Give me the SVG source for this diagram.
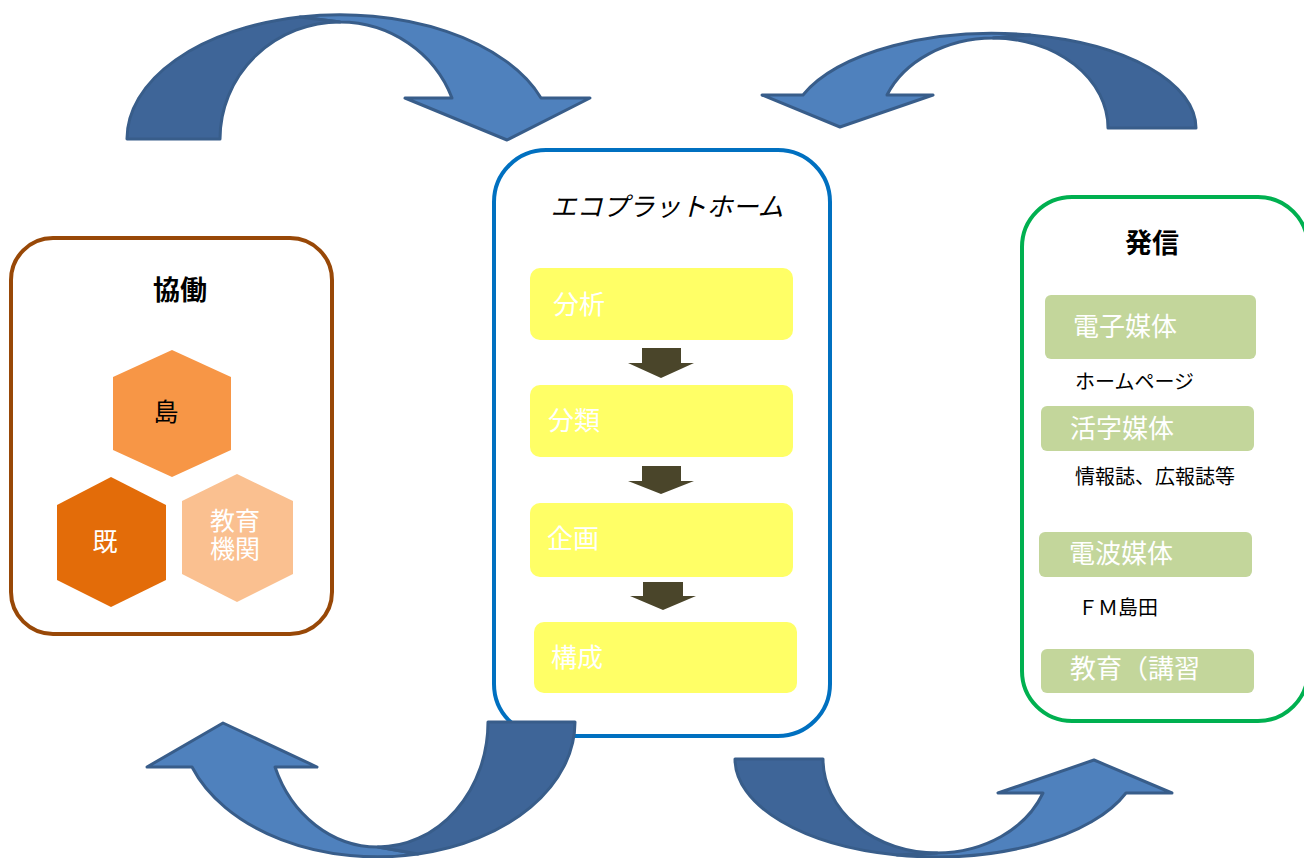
<svg xmlns="http://www.w3.org/2000/svg" width="1304" height="858" viewBox="0 0 1304 858">
<style>
text{font-family:"Noto Sans CJK JP","Noto Sans",sans-serif;}
.frame{fill:#ffffff;stroke-width:4;}
.title{font-size:27px;font-weight:bold;fill:#000;text-anchor:middle;}
.step{fill:#ffff66;}
.steptxt{font-size:26px;fill:#ffffff;}
.down{fill:#4a452a;}
.media{fill:#c3d69b;}
.mediatxt{font-size:26px;fill:#ffffff;}
.sub{font-size:20px;fill:#000;}
.hex{font-size:25px;text-anchor:middle;}
.cdark{fill:#3e6598;stroke:#385d8a;stroke-width:3;stroke-linejoin:round;}
.clight{fill:#4f81bd;stroke:#385d8a;stroke-width:3;stroke-linejoin:round;}
</style>
<rect width="1304" height="858" fill="#ffffff"/>

<g id="kyodo">
<rect class="frame" x="11" y="238" width="321" height="396" rx="42" stroke="#984807"/>
<text class="title" x="180" y="300">協働</text>
<g id="hex-shima">
<polygon points="172,350 231,377 231,450 172,477 113,450 113,377" fill="#f79646"/>
<text class="hex" x="166" y="421" fill="#000000" font-size="26">島</text>
</g>
<g id="hex-ki">
<polygon points="111,477 166,505 166,580 111,607 57,580 57,505" fill="#e36c09"/>
<text class="hex" x="105" y="551" fill="#ffffff" font-size="24">既</text>
</g>
<g id="hex-kyoiku">
<polygon points="237,474 293,501 293,574 237,602 182,574 182,501" fill="#fac090"/>
<text class="hex" fill="#ffffff" font-size="23"><tspan x="235" y="530">教育</tspan><tspan x="235" y="558">機関</tspan></text>
</g>
</g>

<g id="eco">
<rect class="frame" x="494" y="150" width="336" height="586" rx="52" stroke="#0070c0"/>
<text x="667" y="216" font-size="26" font-style="italic" text-anchor="middle" fill="#000">エコプラットホーム</text>
<g id="step1">
<rect class="step" x="530" y="268" width="263" height="72" rx="10"/>
<text class="steptxt" x="553" y="314">分析</text>
</g>
<g id="step2">
<rect class="step" x="530" y="385" width="263" height="72" rx="10"/>
<text class="steptxt" x="548" y="430">分類</text>
</g>
<g id="step3">
<rect class="step" x="530" y="503" width="263" height="74" rx="10"/>
<text class="steptxt" x="547" y="548">企画</text>
</g>
<g id="step4">
<rect class="step" x="534" y="622" width="263" height="71" rx="10"/>
<text class="steptxt" x="551" y="667">構成</text>
</g>
</g>

<g id="hasshin">
<rect class="frame" x="1022" y="197" width="286" height="524" rx="50" stroke="#00b050"/>
<text class="title" x="1152" y="253">発信</text>
<g id="media1">
<rect class="media" x="1045" y="295" width="211" height="64" rx="6"/>
<text class="mediatxt" x="1073" y="336">電子媒体</text>
</g>
<text class="sub" x="1075" y="389" font-size="22">ホームページ</text>
<g id="media2">
<rect class="media" x="1041" y="406" width="213" height="45" rx="6"/>
<text class="mediatxt" x="1070" y="438">活字媒体</text>
</g>
<text class="sub" x="1075" y="484" font-size="19.5">情報誌、広報誌等</text>
<g id="media3">
<rect class="media" x="1039" y="532" width="213" height="45" rx="6"/>
<text class="mediatxt" x="1069" y="563">電波媒体</text>
</g>
<text class="sub" x="1078" y="615" font-size="22">ＦＭ島田</text>
<g id="media4">
<rect class="media" x="1041" y="649" width="213" height="44" rx="6"/>
<text class="mediatxt" x="1070" y="678">教育（講習</text>
</g>
</g>

<g id="connectors">
<polygon class="down" points="642,348 681,348 681,363 694,363 661,378 628,363 642,363"/>
<polygon class="down" points="642,466 681,466 681,481 694,481 661,494 628,481 642,481"/>
<polygon class="down" points="643,582 683,582 683,596 696,596 663,610 630,596 643,596"/>

<g id="arrow-top-left">
<path class="clight" d="M300,17 A213,124 0 0 1 541,98 L590,98 L507,140 L405,98 L452,98 A120,117 0 0 0 340,22 Z"/>
<path class="cdark" d="M127,139 A213,124 0 0 1 300,17 L340,22 A120,117 0 0 0 220,139 Z"/>
</g>
<g id="arrow-top-right">
<path class="clight" d="M1030,35 A203,95 0 0 0 803,95 L762,95 L840,127 L933,95 L887,95 A115,90 0 0 1 993,38 Z"/>
<path class="cdark" d="M1196,128 A203,95 0 0 0 1030,35 L993,38 A115,90 0 0 1 1108,128 Z"/>
</g>
<g id="arrow-bottom-left">
<path class="clight" d="M418,854 A197,135 0 0 1 192,767 L147,767 L223,723 L317,767 L275,767 A110,125 0 0 0 378,847 Z"/>
<path class="cdark" d="M575,722 A197,135 0 0 1 418,854 L378,847 A110,125 0 0 0 488,722 Z"/>
</g>
<g id="arrow-bottom-right">
<path class="clight" d="M897,855 A202,98 0 0 0 1126,793 L1172,793 L1094,760 L998,793 L1043,793 A114,94 0 0 1 937,853 Z"/>
<path class="cdark" d="M735,759 A202,98 0 0 0 897,855 L937,853 A114,94 0 0 1 823,759 Z"/>
</g>
</g>
</svg>
